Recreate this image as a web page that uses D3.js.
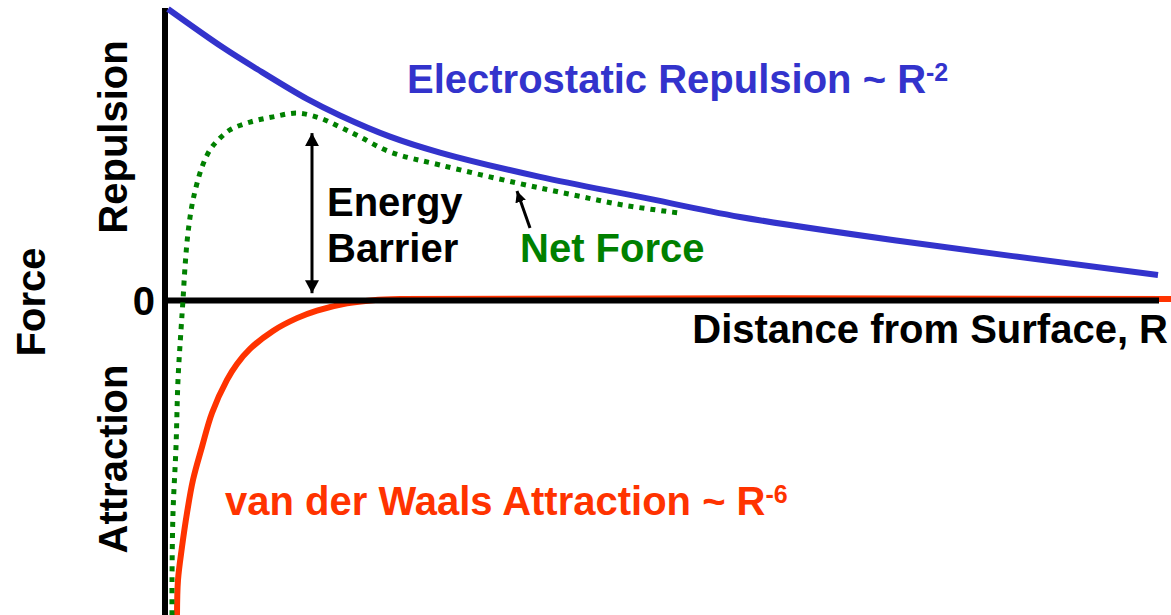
<!DOCTYPE html>
<html>
<head>
<meta charset="utf-8">
<script src="https://cdn.jsdelivr.net/npm/d3@7"></script>
<style>
  html, body { margin: 0; padding: 0; background: #fff; }
  svg { display: block; }
  text { font-family: Arial, "Liberation Sans", sans-serif; font-weight: bold; }
</style>
</head>
<body>
<div id="chart"></div>
<script>
// distance R (arbitrary units) and force (arbitrary units, + repulsion / - attraction)
var repulsionR = [0.03, 0.58, 0.92, 1.42, 1.75, 2.25, 2.75, 3.75, 4.75, 5.75, 7.35, 9.93];
var repulsionF = [10.0, 8.67, 7.93, 6.90, 6.33, 5.60, 5.05, 4.21, 3.52, 2.83, 2.00, 0.83];

var attractionR = [0.12, 0.13, 0.17, 0.22, 0.28, 0.37, 0.47, 0.62, 0.72, 0.85, 1.08, 1.32, 1.52, 1.82, 2.08, 2.35, 10.06];
var attractionF = [-10.9, -9.69, -8.55, -7.38, -6.24, -5.10, -3.93, -2.79, -2.24, -1.72, -1.10, -0.66, -0.40, -0.15, -0.04, 0, 0];

var netR = [0.07, 0.07, 0.08, 0.11, 0.13, 0.16, 0.18, 0.20, 0.23, 0.28, 0.37, 0.45, 0.53, 0.65, 0.85, 1.08, 1.32, 1.55, 1.75, 1.95, 2.25, 2.75, 3.52, 4.08, 4.58, 5.13];
var netF = [-10.9, -9.69, -7.38, -5.10, -2.79, -1.07, -0.03, 1.10, 2.28, 3.41, 4.55, 5.14, 5.48, 5.83, 6.10, 6.28, 6.41, 6.24, 5.93, 5.59, 5.07, 4.62, 4.00, 3.59, 3.24, 2.97];

var width = 1171, height = 615;

var x = d3.scaleLinear().domain([0, 10]).range([165, 1165]);
var y = d3.scaleLinear().domain([-10, 10]).range([589, 9]);

var svg = d3.select("#chart").append("svg")
    .attr("width", width)
    .attr("height", height);

var defs = svg.append("defs");
function arrowMarker(id, w, l, orient) {
    defs.append("marker")
        .attr("id", id)
        .attr("markerUnits", "userSpaceOnUse")
        .attr("viewBox", "0 " + (-w / 2) + " " + l + " " + w)
        .attr("refX", l)
        .attr("refY", 0)
        .attr("markerWidth", l)
        .attr("markerHeight", w)
        .attr("orient", orient)
        .append("path")
        .attr("d", "M0," + (-w / 2) + "L" + l + ",0L0," + (w / 2) + "Z")
        .attr("fill", "#000");
}
arrowMarker("bigArrow", 14, 13, "auto-start-reverse");
arrowMarker("smallArrow", 11, 11, "auto");

var line = d3.line()
    .x(function(d) { return x(d[0]); })
    .y(function(d) { return y(d[1]); })
    .curve(d3.curveCatmullRom.alpha(0.5));

// van der Waals attraction (drawn first, under the axis)
svg.append("path")
    .datum(d3.zip(attractionR, attractionF))
    .attr("d", line)
    .attr("fill", "none")
    .attr("stroke", "#ff3300")
    .attr("stroke-width", 6);

// axes
svg.append("line")
    .attr("x1", x(0)).attr("x2", x(9.94))
    .attr("y1", y(0) + 1.5).attr("y2", y(0) + 1.5)
    .attr("stroke", "#000").attr("stroke-width", 6);
svg.append("line")
    .attr("x1", x(0)).attr("x2", x(0))
    .attr("y1", y(10) - 1).attr("y2", height)
    .attr("stroke", "#000").attr("stroke-width", 6);

// electrostatic repulsion
svg.append("path")
    .datum(d3.zip(repulsionR, repulsionF))
    .attr("d", line)
    .attr("fill", "none")
    .attr("stroke", "#3333cc")
    .attr("stroke-width", 6);

// net force
svg.append("path")
    .datum(d3.zip(netR, netF))
    .attr("d", line)
    .attr("fill", "none")
    .attr("stroke", "#008000")
    .attr("stroke-width", 5)
    .attr("stroke-dasharray", "5,6");

// energy barrier arrow
svg.append("line")
    .attr("x1", x(1.47)).attr("x2", x(1.47))
    .attr("y1", y(5.72)).attr("y2", y(0.2))
    .attr("stroke", "#000").attr("stroke-width", 3)
    .attr("marker-start", "url(#bigArrow)")
    .attr("marker-end", "url(#bigArrow)");

// net force pointer
svg.append("line")
    .attr("x1", x(3.65)).attr("y1", y(2.45))
    .attr("x2", x(3.52)).attr("y2", y(3.72))
    .attr("stroke", "#000").attr("stroke-width", 3)
    .attr("marker-end", "url(#smallArrow)");

// labels
var fs = 40;

svg.append("text").attr("x", 155).attr("y", 315)
    .attr("text-anchor", "end").attr("font-size", fs).text("0");

svg.append("text")
    .attr("transform", "translate(127,137) rotate(-90)")
    .attr("text-anchor", "middle").attr("font-size", fs).text("Repulsion");
svg.append("text")
    .attr("transform", "translate(127,459) rotate(-90)")
    .attr("text-anchor", "middle").attr("font-size", fs).text("Attraction");
svg.append("text")
    .attr("transform", "translate(45,302) rotate(-90)")
    .attr("text-anchor", "middle").attr("font-size", fs).text("Force");

svg.append("text").attr("x", 1168).attr("y", 343)
    .attr("text-anchor", "end").attr("font-size", fs).text("Distance from Surface, R");

svg.append("text").attr("x", 327).attr("y", 216).attr("font-size", fs).text("Energy");
svg.append("text").attr("x", 327).attr("y", 262).attr("font-size", fs).text("Barrier");

svg.append("text").attr("x", 520).attr("y", 262)
    .attr("font-size", fs).attr("fill", "#008000").text("Net Force");

var es = svg.append("text").attr("x", 407).attr("y", 93)
    .attr("font-size", fs).attr("fill", "#3333cc");
es.append("tspan").text("Electrostatic Repulsion ~ R");
es.append("tspan").attr("dy", -12).attr("font-size", 25).text("-2");

var vw = svg.append("text").attr("x", 225).attr("y", 515)
    .attr("font-size", fs).attr("fill", "#ff3300");
vw.append("tspan").text("van der Waals Attraction ~ R");
vw.append("tspan").attr("dy", -12).attr("font-size", 25).text("-6");
</script>
</body>
</html>
